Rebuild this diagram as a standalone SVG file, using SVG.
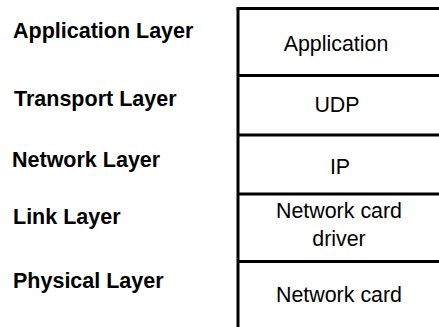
<svg xmlns="http://www.w3.org/2000/svg" width="439" height="327" viewBox="0 0 439 327">
  <style>
    .layer { font-family: "Liberation Sans", Arial, sans-serif; font-size: 21.5px; font-weight: bold; fill: #000; }
    .proto { font-family: "Liberation Sans", Arial, sans-serif; font-size: 21.4px; fill: #000; text-anchor: middle; }
    .rule { stroke: #000; stroke-width: 3; fill: none; }
  </style>
  <rect width="439" height="327" fill="#fff"/>

  <!-- stack frame: left edge runs to the bottom, open on the right -->
  <g id="stack-frame">
    <line class="rule" x1="238" y1="8.5" x2="238" y2="327"/>
  </g>

  <g id="application">
    <text class="layer" x="13" y="38">Application Layer</text>
    <line class="rule" x1="236.5" y1="8.5" x2="439" y2="8.5"/>
    <text class="proto" x="336" y="51">Application</text>
  </g>

  <g id="transport">
    <text class="layer" x="14" y="106">Transport Layer</text>
    <line class="rule" x1="238" y1="75.5" x2="439" y2="75.5"/>
    <text class="proto" x="337" y="112">UDP</text>
  </g>

  <g id="network">
    <text class="layer" x="12" y="167">Network Layer</text>
    <line class="rule" x1="238" y1="135" x2="439" y2="135"/>
    <text class="proto" x="340" y="174">IP</text>
  </g>

  <g id="link">
    <text class="layer" x="13" y="224">Link Layer</text>
    <line class="rule" x1="238" y1="194" x2="439" y2="194"/>
    <text class="proto" x="339" y="218">Network card</text>
    <text class="proto" x="339" y="246">driver</text>
  </g>

  <g id="physical">
    <text class="layer" x="13" y="288">Physical Layer</text>
    <line class="rule" x1="238" y1="261.5" x2="439" y2="261.5"/>
    <text class="proto" x="339" y="302">Network card</text>
  </g>

  <g id="connectors"></g>
</svg>
